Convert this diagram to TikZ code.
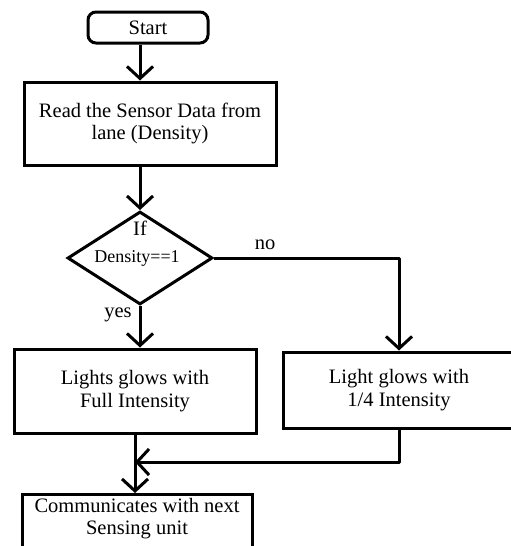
\documentclass[tikz,border=0pt]{standalone}
\usepackage{fontspec}
\setmainfont{Liberation Serif}
\usetikzlibrary{arrows.meta,shapes.geometric}
\begin{document}
\begin{tikzpicture}[x=1pt,y=-1pt,
  box/.style={draw,line width=3pt,rectangle,inner sep=0pt,align=center,font=\fontsize{20.5}{22.5}\selectfont},
  arr/.style={line width=3pt,line join=round,-{Straight Barb[length=12pt,width=26pt]}},
  txt/.style={inner sep=0pt,font=\fontsize{20.5}{22.5}\selectfont}]
\useasboundingbox (0,0) rectangle (511,546);
\clip (0,0) rectangle (511,546);
\node[box,rounded corners=8pt,minimum width=120,minimum height=31] (start) at (148,27.5) {Start};
\node[box,minimum width=252,minimum height=83] (read) at (150,123.5) {Read the Sensor Data from\\lane (Density)};
\node[draw,diamond,line width=3pt,minimum width=145,minimum height=93,inner sep=0pt] (dia) at (140,258) {};
\node[txt] (if) at (140,228) {If};
\node[txt,font=\fontsize{18}{20}\selectfont] (cond) at (137,258) {Density==1};
\node[box,minimum width=242,minimum height=84] (lb) at (135,391) {Lights glows with\\Full Intensity};
\node[box,minimum width=232,minimum height=76] (rb) at (399,390) {Light glows with\\1/4 Intensity};
\node[box,minimum width=230,minimum height=70,anchor=north] (comm) at (137,493) {};
\node[txt,align=center] (commtxt) at (137,518.5) {Communicates with next\\Sensing unit};
\node[txt] (no) at (265,245) {no};
\node[txt] (yes) at (118,315) {yes};
\coordinate (jy) at (0,462);
\coordinate (join) at (lb.south |- jy);
\draw[arr] (start.south -| dia.north) -- (read.north -| dia.north);
\draw[arr] (read.south -| dia.north) -- (dia.north);
\draw[arr] (dia.south) -- (dia.south |- lb.north);
\draw[arr] (dia.east) -| (rb.north);
\draw[arr] (rb.south) |- (join);
\draw[arr] (lb.south) -- (comm.north -| lb.south);
\end{tikzpicture}
\end{document}
